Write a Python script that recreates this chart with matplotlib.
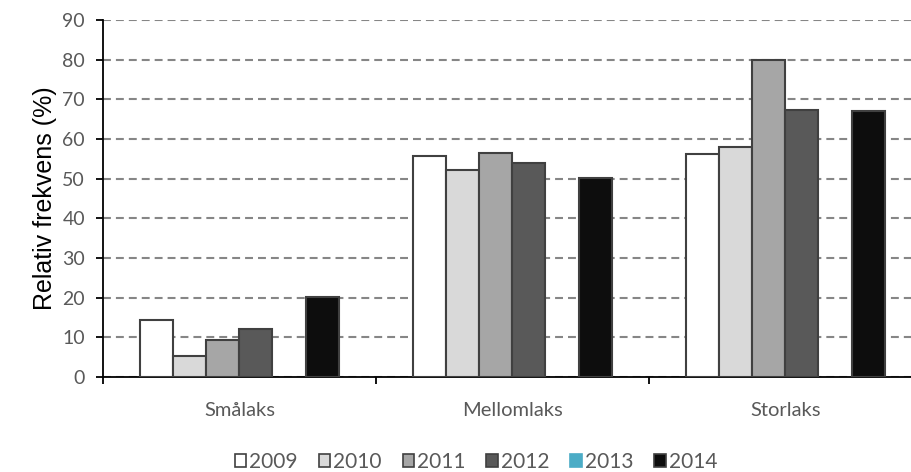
import numpy as np
import matplotlib
matplotlib.use("Agg")
import matplotlib.pyplot as plt
import matplotlib.patches as mpatches

categories = ["Smålaks", "Mellomlaks", "Storlaks"]
years = ["2009", "2010", "2011", "2012", "2013", "2014"]
values = {
    "2009": [14.4, 55.7, 56.3],
    "2010": [5.3, 52.3, 58.1],
    "2011": [9.2, 56.5, 80.0],
    "2012": [12.1, 53.9, 67.2],
    "2013": [0.0, 0.0, 0.0],
    "2014": [20.2, 50.2, 67.0],
}
yticks = list(range(0, 100, 10))

FILLS = ["#ffffff", "#d9d9d9", "#a6a6a6", "#595959", "#4bacc6", "#0d0d0d"]
EDGE = "#404040"
TICK_TXT = "#595959"
LABEL_FONT = ["Lato", "DejaVu Sans"]

fig = plt.figure(figsize=(9.12, 4.72), dpi=100)
# right edge runs slightly past the canvas so the grid reaches the border
ax = fig.add_axes([0.1129, 0.2013, 0.898, 0.7564])

x = np.arange(len(categories))
w = 0.121
for i, yr in enumerate(years):
    off = (i - (len(years) - 1) / 2) * w
    if yr == "2013":
        continue  # no data that year
    ax.bar(x + off, values[yr], width=w, color=FILLS[i], edgecolor=EDGE,
           linewidth=1.5, zorder=3)

ax.set_ylim(0, 90)
ax.set_xlim(-0.5, 2.5)
ax.set_yticks(yticks)
ax.set_yticklabels([str(t) for t in yticks], fontsize=14, color=TICK_TXT,
                   family=LABEL_FONT)
ax.yaxis.grid(True, color="#868686", linestyle=(0, (3.8, 2.4)), linewidth=1.5,
              zorder=0)
ax.set_axisbelow(True)

# category names centred, tick marks at group boundaries
ax.set_xticks([-0.5, 0.5, 1.5, 2.5])
ax.set_xticklabels([])
ax.set_xticks(x, minor=True)
ax.set_xticklabels(categories, minor=True, fontsize=14.5, color=TICK_TXT,
                   family=LABEL_FONT)
ax.tick_params(axis="x", which="minor", length=0, pad=18)
ax.tick_params(axis="x", which="major", length=5, width=1.3, color="black",
               direction="out")
ax.tick_params(axis="y", length=5, width=1.3, color="black", direction="out",
               pad=8)

for s in ["top", "right"]:
    ax.spines[s].set_visible(False)
for s in ["left", "bottom"]:
    ax.spines[s].set_color("black")
    ax.spines[s].set_linewidth(1.3)

ax.set_ylabel("Relativ frekvens (%)", fontsize=18, family=["Liberation Sans"],
              color="black", labelpad=4)

handles = []
for i, yr in enumerate(years):
    ec = FILLS[i] if yr == "2013" else EDGE
    handles.append(mpatches.Patch(facecolor=FILLS[i], edgecolor=ec,
                                  linewidth=1.2, label=yr))
leg = fig.legend(handles=handles, loc="center", bbox_to_anchor=(0.522, 0.021),
                 ncol=6, frameon=False, handlelength=0.55, handleheight=0.55,
                 handletextpad=0.15, columnspacing=1.0,
                 prop={"family": LABEL_FONT, "size": 15})
for t in leg.get_texts():
    t.set_color(TICK_TXT)

fig.savefig("out.png", dpi=100)
